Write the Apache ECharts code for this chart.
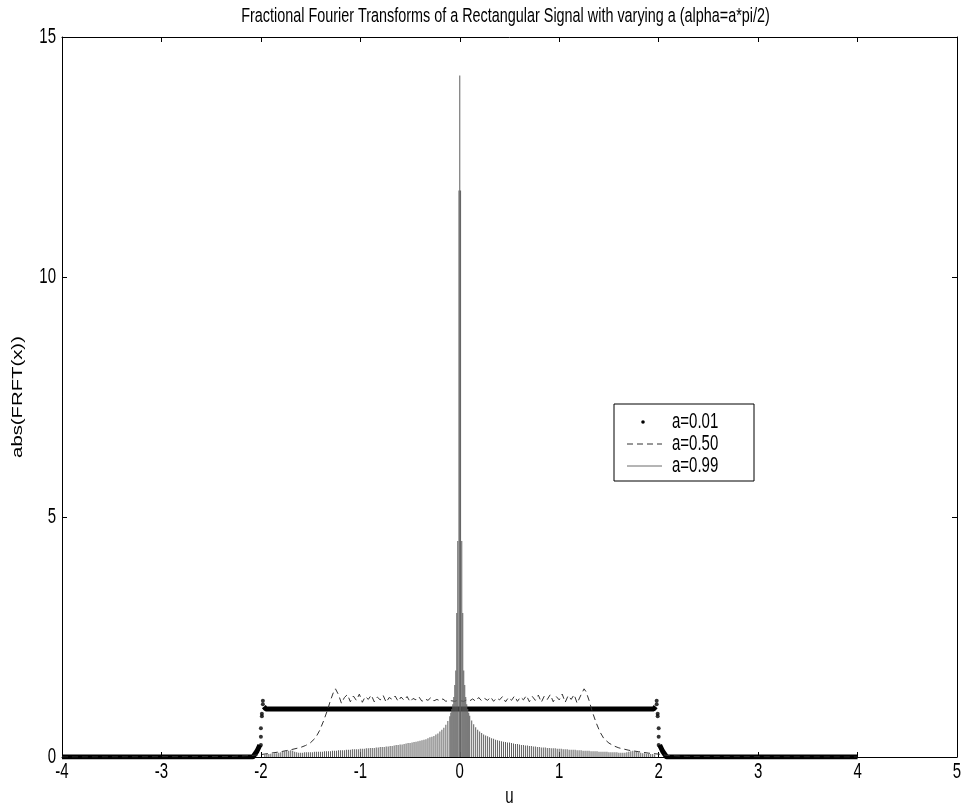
<!DOCTYPE html>
<html>
<head>
<meta charset="utf-8">
<script src="https://cdn.jsdelivr.net/npm/echarts@6/dist/echarts.min.js"></script>
<style>html,body{margin:0;padding:0;background:#fff}#c{width:964px;height:810px}</style>
</head>
<body>
<div id="c"></div>
<script>
// ---- data ----
const titleText = 'Fractional Fourier Transforms of a Rectangular Signal with varying a (alpha=a*pi/2)';
const xName = 'u';
const yName = 'abs(FRFT(x))';
const xTicks = [-4, -3, -2, -1, 0, 1, 2, 3, 4, 5];
const yTicks = [0, 5, 10, 15];
const legendNames = ['a=0.01', 'a=0.50', 'a=0.99'];

// a=0.01 : near-rectangular signal (dense dots form a thick line)
const rectLine = [[-4, 0], [-2.08, 0], [-2.04, 0.12], [-2.01, 0.25]];
const rectBand = [[-1.97, 1.05], [-1.95, 1.0], [1.95, 1.0], [1.97, 1.05]];
const rectRight = [[2.01, 0.25], [2.04, 0.12], [2.08, 0], [4, 0]];
const rectDots = [[-2.0, 0.25], [-2.0, 0.42], [-2.0, 0.6], [-1.99, 0.85], [-1.99, 0.9], [-1.98, 1.1], [-1.98, 1.17],
                  [1.98, 1.17], [1.98, 1.1], [1.99, 0.9], [1.99, 0.85], [2.0, 0.6], [2.0, 0.42], [2.0, 0.25]];

// a=0.50 : dashed curve
const halfU = [-4, -2.3, -2.1, -2.0, -1.9, -1.8, -1.7, -1.6, -1.55, -1.5, -1.45, -1.41, -1.37, -1.33, -1.3, -1.27, -1.25, -1.22, -1.19,
  -1.16, -1.13, -1.10, -1.07, -1.04, -1.01, -0.98, -0.95, -0.92, -0.89, -0.86, -0.83, -0.80, -0.77, -0.74, -0.71, -0.68, -0.65,
  -0.62, -0.59, -0.56, -0.53, -0.50, -0.47, -0.44, -0.41, -0.38, -0.35, -0.32, -0.29, -0.26, -0.23, -0.20, -0.17, -0.14, -0.11,
  -0.08, -0.05, -0.02, 0.01, 0.04, 0.07, 0.10, 0.13, 0.16, 0.19, 0.22, 0.25, 0.28, 0.31, 0.34, 0.37, 0.40, 0.43, 0.46, 0.49,
  0.52, 0.55, 0.58, 0.61, 0.64, 0.67, 0.70, 0.73, 0.76, 0.79, 0.82, 0.85, 0.88, 0.91, 0.94, 0.97, 1.00, 1.03, 1.06, 1.09, 1.12,
  1.15, 1.18, 1.22, 1.25, 1.27, 1.30, 1.33, 1.37, 1.41, 1.45, 1.5, 1.55, 1.6, 1.7, 1.8, 1.9, 2.0, 2.1, 2.3, 4];
const halfV = [0, 0.01, 0.03, 0.05, 0.08, 0.11, 0.15, 0.2, 0.24, 0.3, 0.4, 0.55, 0.75, 0.98, 1.18, 1.35, 1.42, 1.3, 1.12,
  1.24, 1.30, 1.15, 1.27, 1.18, 1.31, 1.14, 1.26, 1.20, 1.29, 1.15, 1.25, 1.19, 1.28, 1.14, 1.24, 1.20, 1.27,
  1.16, 1.25, 1.18, 1.26, 1.15, 1.22, 1.19, 1.25, 1.16, 1.21, 1.18, 1.24, 1.17, 1.20, 1.17, 1.21, 1.16, 1.18,
  1.17, 1.16, 1.18, 1.17, 1.16, 1.19, 1.17, 1.21, 1.16, 1.24, 1.17, 1.22, 1.18, 1.25, 1.16, 1.23, 1.19, 1.26, 1.15, 1.24,
  1.18, 1.27, 1.16, 1.25, 1.19, 1.28, 1.15, 1.26, 1.18, 1.29, 1.14, 1.27, 1.20, 1.30, 1.15, 1.26, 1.19, 1.31, 1.14, 1.28, 1.20,
  1.30, 1.12, 1.30, 1.42, 1.36, 1.18, 0.96, 0.72, 0.52, 0.38, 0.29, 0.23, 0.19, 0.14, 0.11, 0.08, 0.06, 0.03, 0.01, 0];

// a=0.99 : fast oscillation, peak heights (sampled every 0.02 away from centre)
const peakCentreU = [-0.09, -0.08, -0.07, -0.06, -0.05, -0.04, -0.03, -0.02, -0.008, 0, 0.008, 0.02, 0.03, 0.04, 0.05, 0.06, 0.07, 0.08, 0.09];
const peakCentreV = [0.92, 1.0, 1.1, 1.25, 1.5, 1.8, 3.0, 4.5, 11.8, 14.2, 11.8, 4.5, 3.0, 1.8, 1.5, 1.25, 1.1, 1.0, 0.92];
const peakStep = 0.02;
const peakRightStart = 0.10;
const peakRightV = [0.86, 0.76, 0.68, 0.62, 0.57, 0.53, 0.50, 0.47, 0.45, 0.43, 0.41, 0.39, 0.38, 0.36, 0.35, 0.34, 0.33, 0.32,
  0.31, 0.30, 0.30, 0.29, 0.28, 0.27, 0.27, 0.26, 0.25, 0.25, 0.24, 0.24, 0.23, 0.23, 0.22, 0.22, 0.21, 0.21, 0.20, 0.20, 0.20,
  0.19, 0.19, 0.18, 0.18, 0.18, 0.17, 0.17, 0.17, 0.16, 0.16, 0.16, 0.15, 0.15, 0.15, 0.15, 0.14, 0.14, 0.14, 0.13, 0.13, 0.13,
  0.13, 0.12, 0.12, 0.12, 0.12, 0.11, 0.11, 0.11, 0.11, 0.11, 0.10, 0.10, 0.10, 0.10, 0.10, 0.09, 0.09, 0.09, 0.09, 0.10, 0.11,
  0.12, 0.13, 0.12, 0.11, 0.10, 0.09, 0.08, 0.08, 0.07, 0.07, 0.06, 0.06, 0.05];
const peakLeftV = [0.85, 0.75, 0.67, 0.61, 0.57, 0.53, 0.49, 0.47, 0.44, 0.42, 0.41, 0.39, 0.37, 0.36, 0.35, 0.34, 0.33, 0.32,
  0.31, 0.30, 0.29, 0.29, 0.28, 0.27, 0.26, 0.26, 0.25, 0.25, 0.24, 0.23, 0.23, 0.22, 0.22, 0.21, 0.21, 0.21, 0.20, 0.20, 0.19,
  0.19, 0.19, 0.18, 0.18, 0.17, 0.17, 0.17, 0.16, 0.16, 0.16, 0.16, 0.15, 0.15, 0.15, 0.14, 0.14, 0.14, 0.14, 0.13, 0.13, 0.13,
  0.12, 0.12, 0.12, 0.12, 0.11, 0.11, 0.11, 0.11, 0.11, 0.10, 0.10, 0.10, 0.10, 0.10, 0.09, 0.09, 0.09, 0.10, 0.11, 0.13, 0.14,
  0.13, 0.14, 0.12, 0.11, 0.10, 0.09, 0.08, 0.08, 0.07, 0.07, 0.06, 0.06, 0.05];

// ---- build series data ----
const peaks = [];
peakLeftV.forEach((v, i) => peaks.push([+(-(peakRightStart + i * peakStep)).toFixed(3), v]));
peakCentreU.forEach((u, i) => peaks.push([u, peakCentreV[i]]));
peakRightV.forEach((v, i) => peaks.push([+(peakRightStart + i * peakStep).toFixed(3), v]));
peaks.sort((a, b) => a[0] - b[0]);
const halfData = halfU.map((u, i) => [u, halfV[i]]);

const FONT = 'Liberation Sans, Arial, sans-serif';
const STRETCH = 1.45; // the reference text is drawn tall and narrow
const chart = echarts.init(document.getElementById('c'), null, {renderer: 'canvas'});
const G = {left: 62, right: 7, top: 37, bottom: 53};
const axisCommon = {
  type: 'value', splitLine: {show: false}, axisLabel: {show: false},
  axisLine: {show: true, onZero: false, lineStyle: {color: '#000', width: 1}},
  axisTick: {show: true, inside: true, length: 5, lineStyle: {color: '#000'}}
};
chart.setOption({
  animation: false,
  backgroundColor: '#fff',
  grid: G,
  xAxis: [
    Object.assign({}, axisCommon, {position: 'bottom', min: -4, max: 5, interval: 1}),
    Object.assign({}, axisCommon, {position: 'top', min: -4, max: 5, interval: 1})
  ],
  yAxis: [
    Object.assign({}, axisCommon, {position: 'left', min: 0, max: 15, interval: 5}),
    Object.assign({}, axisCommon, {position: 'right', min: 0, max: 15, interval: 5})
  ],
  series: [
    {name: 'a=0.01', type: 'line', data: rectLine, showSymbol: false, lineStyle: {color: '#000', width: 5}, z: 2},
    {name: 'a=0.01', type: 'line', data: rectBand, showSymbol: false, lineStyle: {color: '#000', width: 5}, z: 2},
    {name: 'a=0.01', type: 'line', data: rectRight, showSymbol: false, lineStyle: {color: '#000', width: 5}, z: 2},
    {name: 'a=0.01', type: 'scatter', data: rectDots, symbol: 'circle', symbolSize: 4, itemStyle: {color: '#000'}, z: 2},
    {name: 'a=0.50', type: 'line', data: halfData, showSymbol: false,
      lineStyle: {color: '#333', width: 1, type: [6, 4]}, z: 3},
    {name: 'a=0.99', type: 'bar', data: peaks, barWidth: 1, barMinHeight: 0,
      itemStyle: {color: '#5e5e5e'}, z: 4}
  ]
});

// ---- text (tall, narrow lettering) placed through the axes' own scales ----
function txt(text, x, y, size, align, extra) {
  return Object.assign({type: 'text', x: x, y: y, scaleX: 1, scaleY: STRETCH, z: 20,
    style: {text: text, font: size + 'px ' + FONT, fill: '#000', align: align, verticalAlign: 'middle'}}, extra || {});
}
const px = v => chart.convertToPixel({xAxisIndex: 0}, v);
const py = v => chart.convertToPixel({yAxisIndex: 0}, v);
const plotL = px(-4), plotR = px(5), plotT = py(15), plotB = py(0);
const gfx = [];
gfx.push(txt(titleText, (plotL + plotR) / 2 - 4, plotT - 21, 14.4, 'center'));
xTicks.forEach(v => gfx.push(txt(String(v), px(v), plotB + 15, 15, 'center')));
yTicks.forEach(v => gfx.push(txt(String(v), plotL - 6, py(v), 15, 'right')));
gfx.push(txt(xName, (plotL + plotR) / 2, plotB + 40, 15, 'center'));
gfx.push(Object.assign(txt(yName, plotL - 44, (plotT + plotB) / 2, 14, 'center'),
  {rotation: Math.PI / 2, scaleX: STRETCH, scaleY: 1}));
// legend box
const LX = 614, LY = 404;
gfx.push({type: 'rect', shape: {x: LX, y: LY, width: 140, height: 77}, style: {fill: '#fff', stroke: '#000', lineWidth: 1}, z: 10});
gfx.push({type: 'circle', shape: {cx: LX + 29, cy: LY + 18, r: 1.8}, style: {fill: '#000'}, z: 11});
gfx.push({type: 'line', shape: {x1: LX + 13, y1: LY + 40, x2: LX + 48, y2: LY + 40}, style: {stroke: '#333', lineWidth: 1, lineDash: [6, 4]}, z: 11});
gfx.push({type: 'line', shape: {x1: LX + 13, y1: LY + 62, x2: LX + 48, y2: LY + 62}, style: {stroke: '#6a6a6a', lineWidth: 1}, z: 11});
legendNames.forEach((n, i) => gfx.push(txt(n, LX + 58, LY + 18 + 22 * i, 15, 'left')));
chart.setOption({graphic: gfx});
</script>
</body>
</html>
